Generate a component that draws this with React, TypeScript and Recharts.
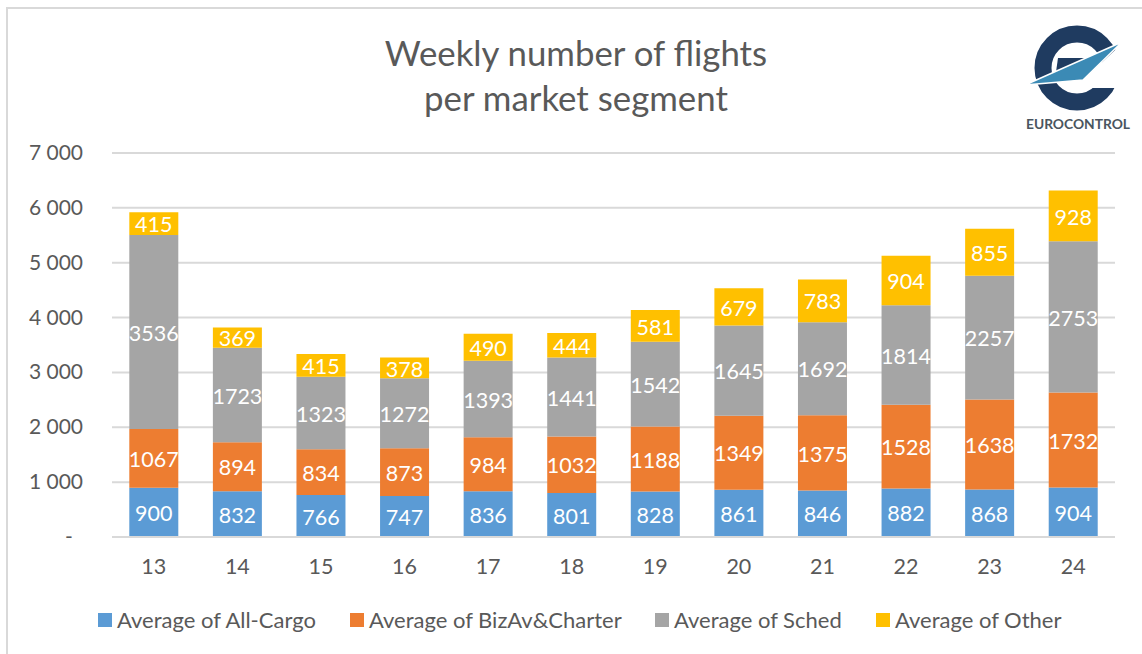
import { BarChart, Bar, XAxis, YAxis, CartesianGrid, LabelList, Legend } from 'recharts';

const weeks = ['13', '14', '15', '16', '17', '18', '19', '20', '21', '22', '23', '24'];
const allCargo = [900, 832, 766, 747, 836, 801, 828, 861, 846, 882, 868, 904];
const bizAv = [1067, 894, 834, 873, 984, 1032, 1188, 1349, 1375, 1528, 1638, 1732];
const sched = [3536, 1723, 1323, 1272, 1393, 1441, 1542, 1645, 1692, 1814, 2257, 2753];
const other = [415, 369, 415, 378, 490, 444, 581, 679, 783, 904, 855, 928];
const yTicks = [0, 1000, 2000, 3000, 4000, 5000, 6000, 7000];

const data = weeks.map((week, i) => ({
  week,
  allCargo: allCargo[i],
  bizAv: bizAv[i],
  sched: sched[i],
  other: other[i],
}));

const FONT = 'Lato, "Open Sans", sans-serif';
const TEXT = '#595959';

const SERIES = [
  { key: 'allCargo', name: 'Average of All-Cargo', color: '#5b9bd5', legendX: 98 },
  { key: 'bizAv', name: 'Average of BizAv&Charter', color: '#ed7d31', legendX: 350 },
  { key: 'sched', name: 'Average of Sched', color: '#a5a5a5', legendX: 655 },
  { key: 'other', name: 'Average of Other', color: '#ffc000', legendX: 876 },
];

function YTick({ y, payload }: any) {
  if (payload.value === 0) {
    return (
      <text x={69} y={y + 7} fontSize={21} fontFamily={FONT} fill={TEXT} textAnchor="middle">
        -
      </text>
    );
  }
  const label = `${payload.value / 1000} 000`;
  return (
    <text x={83} y={y + 7} fontSize={21} fontFamily={FONT} fill={TEXT} textAnchor="end">
      {label}
    </text>
  );
}

function ChartLegend() {
  return (
    <div style={{ position: 'relative', width: 1142, height: 30, fontFamily: FONT, fontSize: 22, color: TEXT }}>
      {SERIES.map((s) => (
        <div key={s.key} style={{ position: 'absolute', left: s.legendX, top: 0, whiteSpace: 'nowrap', lineHeight: '30px' }}>
          <span
            style={{
              position: 'absolute',
              left: 0,
              top: 8,
              width: 14,
              height: 14,
              background: s.color,
            }}
          />
          <span style={{ marginLeft: 19 }}>{s.name}</span>
        </div>
      ))}
    </div>
  );
}

function Logo() {
  return (
    <svg width={130} height={130} viewBox="1015 15 130 130" style={{ position: 'absolute', left: 1015, top: 15 }}>
      <circle cx={1077} cy={68} r={34} fill="none" stroke="#1f3b60" strokeWidth={17} />
      {/* white cut on the right of the ring, under the wing */}
      <path d="M1128 38 L1083 80 L1083 88 L1128 88 Z" fill="#ffffff" />
      <path d="M1058 58 L1097 58 L1082 72 L1056 72 Z" fill="#1f3b60" />
      <path d="M1122 42 L1025 85 L1083 80 Z" fill="#3b8ab5" stroke="#ffffff" strokeWidth={1.5} />
      <text x={1078} y={129} fontSize={13.8} fontWeight={700} fontFamily={FONT} fill="#4a5560" textAnchor="middle">
        EUROCONTROL
      </text>
    </svg>
  );
}

export default function App() {
  return (
    <div style={{ position: 'absolute', left: 0, top: 0, width: 1142, height: 654, overflow: 'hidden', background: '#fff' }}>
      <div
        style={{
          position: 'absolute',
          left: 6,
          top: 7,
          width: 1300,
          height: 800,
          border: '2px solid #d9d9d9',
        }}
      />
      <div
        style={{
          position: 'absolute',
          left: 0,
          top: 30,
          width: 1152,
          textAlign: 'center',
          fontFamily: FONT,
          fontSize: 34.8,
          lineHeight: '45px',
          color: TEXT,
        }}
      >
        Weekly number of flights
        <br />
        per market segment
      </div>
      <Logo />
      <BarChart
        width={1142}
        height={654}
        data={data}
        barCategoryGap="20.7%"
        margin={{ top: 153, right: 27, bottom: 57, left: 0 }}
        style={{ position: 'absolute', left: 0, top: 0 }}
      >
        <CartesianGrid vertical={false} stroke="#d9d9d9" strokeWidth={2} />
        <XAxis
          dataKey="week"
          axisLine={{ stroke: '#d9d9d9', strokeWidth: 2 }}
          tickLine={false}
          height={30}
          tick={{ fontSize: 21.5, fontFamily: FONT, fill: TEXT, dy: 14 }}
        />
        <YAxis width={112} domain={[0, 7000]} ticks={yTicks} axisLine={false} tickLine={false} tick={<YTick />} />
        <Legend
          content={<ChartLegend />}
          wrapperStyle={{ left: 0, top: 605, width: 1142, height: 30 }}
        />
        {SERIES.map((s) => (
          <Bar key={s.key} dataKey={s.key} name={s.name} stackId="a" fill={s.color} isAnimationActive={false}>
            <LabelList dataKey={s.key} position="center" fill="#ffffff" fontSize={21.5} fontFamily={FONT} dy={1} />
          </Bar>
        ))}
      </BarChart>
    </div>
  );
}
